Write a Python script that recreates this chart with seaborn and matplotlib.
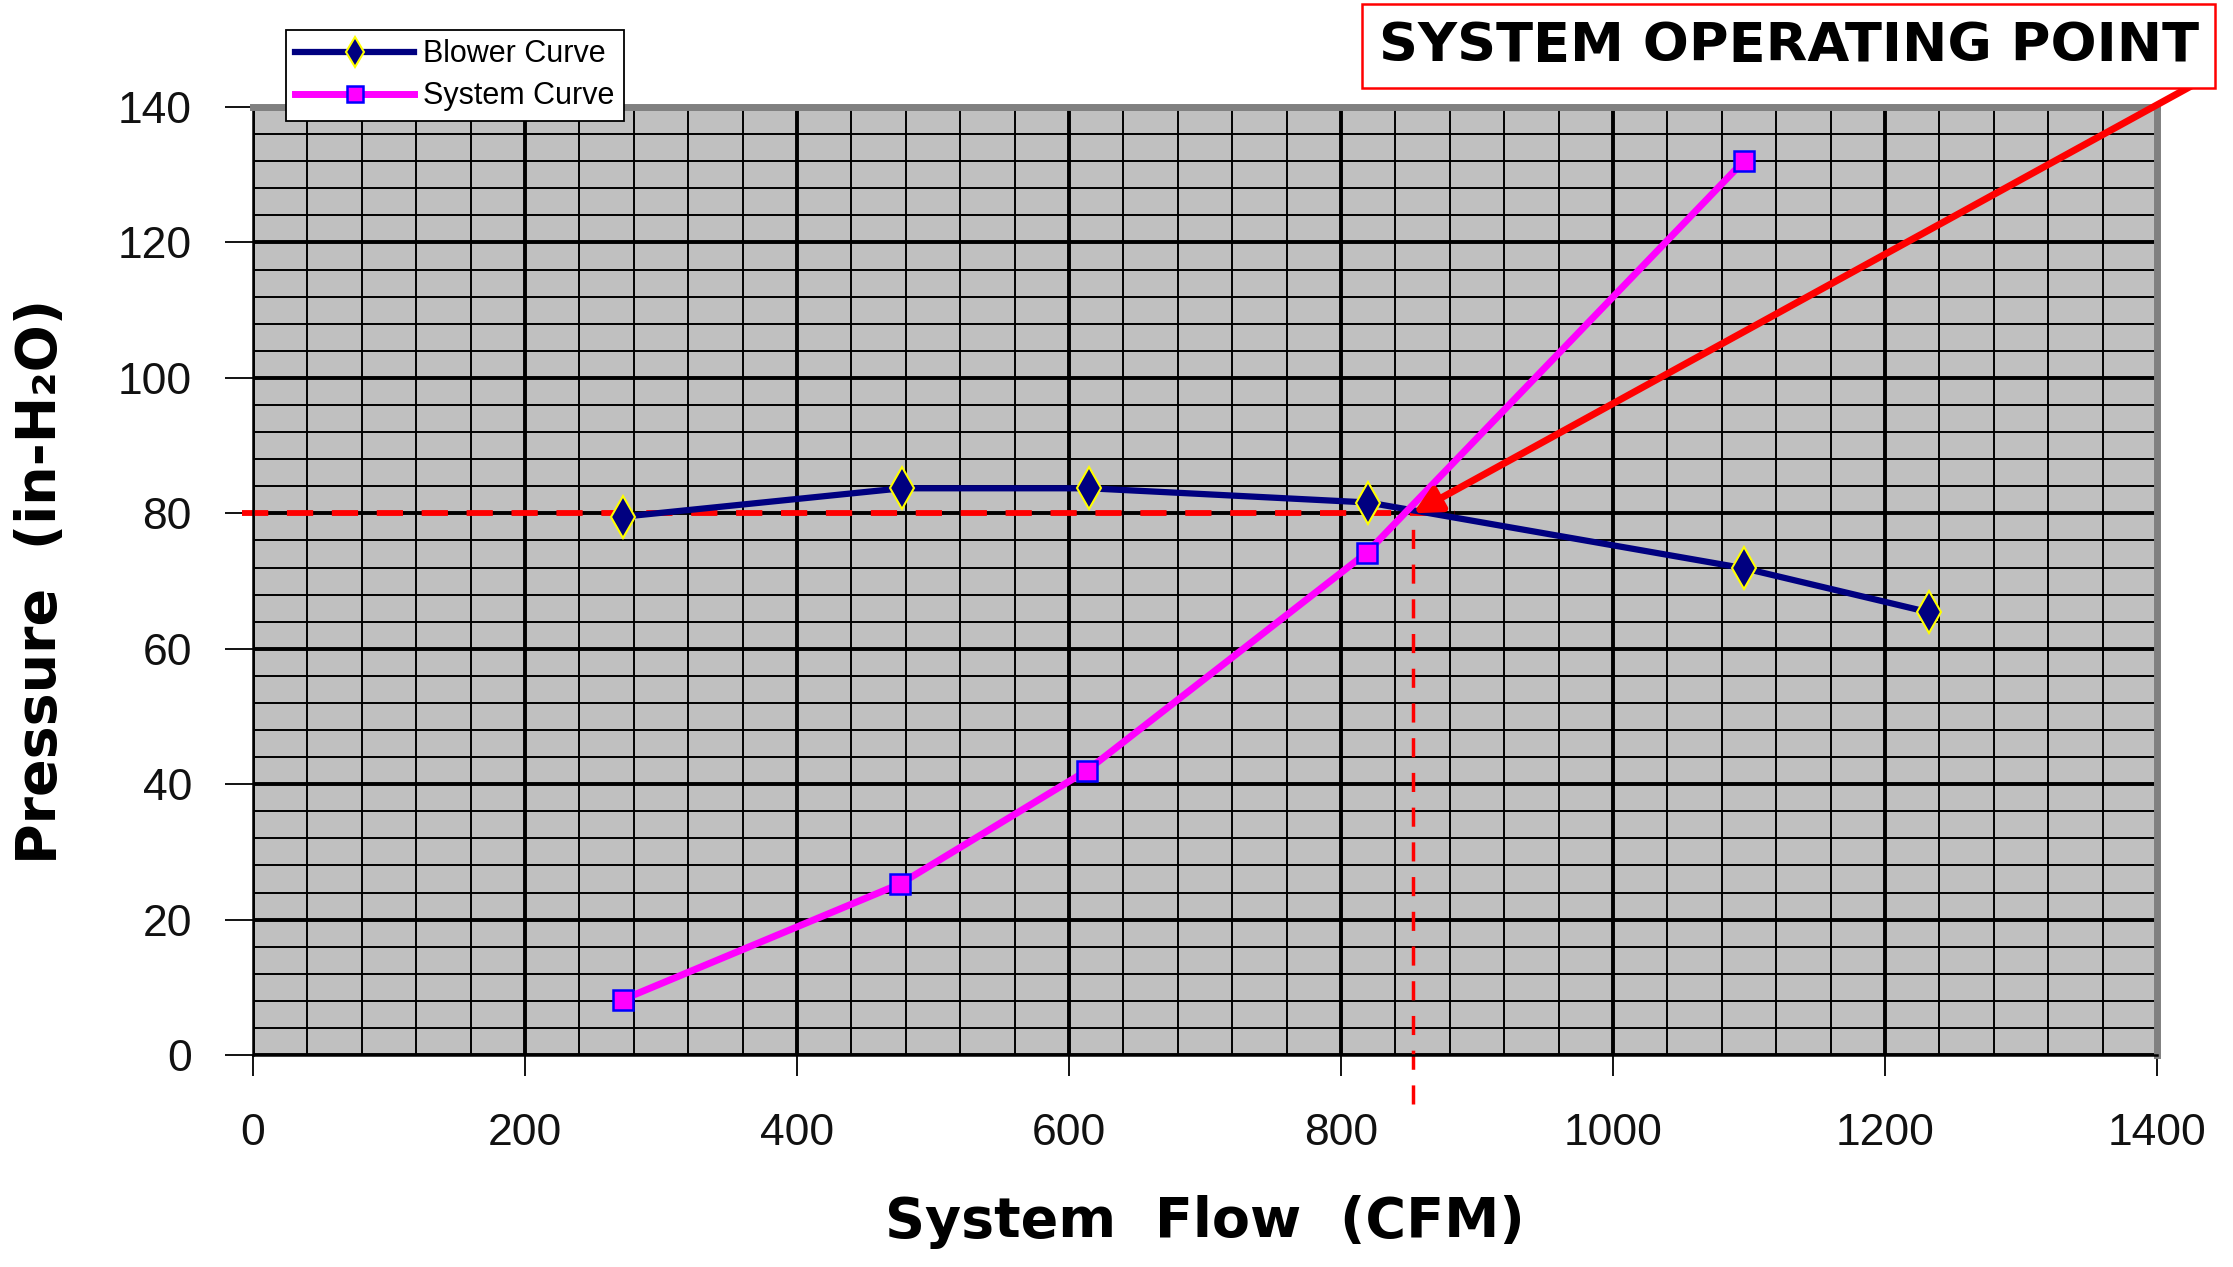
import pandas as pd
import seaborn as sns
import matplotlib.pyplot as plt
from matplotlib.ticker import MultipleLocator

# values
blower_flow = [272, 477, 615, 820, 1096, 1232]
blower_pressure = [79.5, 83.7, 83.7, 81.6, 71.9, 65.4]
system_flow = [272, 476, 613, 819, 1096]
system_pressure = [8.2, 25.3, 42.0, 74.2, 132.0]
op_flow = 853
op_pressure = 80
x_ticks = [0, 200, 400, 600, 800, 1000, 1200, 1400]
y_ticks = [0, 20, 40, 60, 80, 100, 120, 140]

df_blower = pd.DataFrame({"flow": blower_flow, "pressure": blower_pressure})
df_system = pd.DataFrame({"flow": system_flow, "pressure": system_pressure})

plt.rcParams['font.family'] = ['Liberation Sans', 'DejaVu Sans']

fig = plt.figure(figsize=(22.33, 12.67), dpi=100)
ax = fig.add_axes([0.1133, 0.1673, 0.8527, 0.7482])
ax.set_facecolor('#C0C0C0')
ax.set_axisbelow(True)

# red dashed guide lines to the operating point
ax.plot([-8, 884], [op_pressure, op_pressure], color='red', lw=4.2,
        dashes=(4.5, 3.2), clip_on=False, zorder=2.5)
ax.plot([op_flow, op_flow], [-7.2, op_pressure], color='red', lw=2.5,
        dashes=(5.5, 4.5), clip_on=False, zorder=2.5)

sns.lineplot(data=df_blower, x="flow", y="pressure", ax=ax, color='#000080',
             lw=4.5, marker='d', markersize=21, markerfacecolor='#000080',
             markeredgecolor='yellow', markeredgewidth=1.5,
             label="Blower Curve", zorder=3)
sns.lineplot(data=df_system, x="flow", y="pressure", ax=ax, color='#FF00FF',
             lw=5, marker='s', markersize=15, markerfacecolor='#FF00FF',
             markeredgecolor='blue', markeredgewidth=1.8,
             label="System Curve", zorder=3)

ax.set_xlim(0, 1400)
ax.set_ylim(0, 140)
ax.set_xticks(x_ticks)
ax.set_yticks(y_ticks)
ax.xaxis.set_minor_locator(MultipleLocator(40))
ax.yaxis.set_minor_locator(MultipleLocator(4))
ax.grid(which='major', color='black', lw=2.8)
ax.grid(which='minor', color='black', lw=1.4)
ax.tick_params(which='major', direction='out', length=15, width=1.3,
               labelsize=32, pad=27, colors='black')
ax.tick_params(axis='y', which='major', length=20, pad=24)
ax.tick_params(which='minor', length=0)
for lab in ax.get_xticklabels() + ax.get_yticklabels():
    lab.set_color('#111111')

for side in ['top', 'right']:
    ax.spines[side].set_color('#808080')
    ax.spines[side].set_linewidth(5)
for side in ['left', 'bottom']:
    ax.spines[side].set_color('black')
    ax.spines[side].set_linewidth(1.8)

ax.set_xlabel("System  Flow  (CFM)", fontsize=40, fontweight='bold',
              family=['DejaVu Sans'])
ax.set_ylabel("Pressure  (in-H₂O)", fontsize=40, fontweight='bold',
              family=['DejaVu Sans'])
ax.xaxis.set_label_coords(0.5, -0.148)
ax.yaxis.set_label_coords(-0.097, 0.5)

# arrow from the callout box to the operating point
ax.annotate('', xy=(op_flow, op_pressure), xytext=(1426, 143.2),
            arrowprops=dict(arrowstyle='-|>', color='red', lw=5,
                            mutation_scale=40, shrinkA=0, shrinkB=0),
            annotation_clip=False, zorder=5)

fig.text(0.801, 0.9637, "SYSTEM OPERATING POINT", fontsize=39,
         fontweight='bold', family=['DejaVu Sans'], ha='center', va='center',
         bbox=dict(boxstyle='square,pad=0.3', facecolor='white',
                   edgecolor='red', lw=1.8))

leg = ax.legend(loc='upper left', bbox_to_anchor=(0.128, 0.9763),
                bbox_transform=fig.transFigure, fontsize=22, frameon=True,
                fancybox=False, edgecolor='black', framealpha=1,
                handlelength=3.9, handletextpad=0.3, labelspacing=0.4,
                borderpad=0.3, borderaxespad=0, markerscale=0.75)
leg.get_frame().set_linewidth(1.3)
leg.set_zorder(10)

fig.savefig("out.png", dpi=100, facecolor='white')
